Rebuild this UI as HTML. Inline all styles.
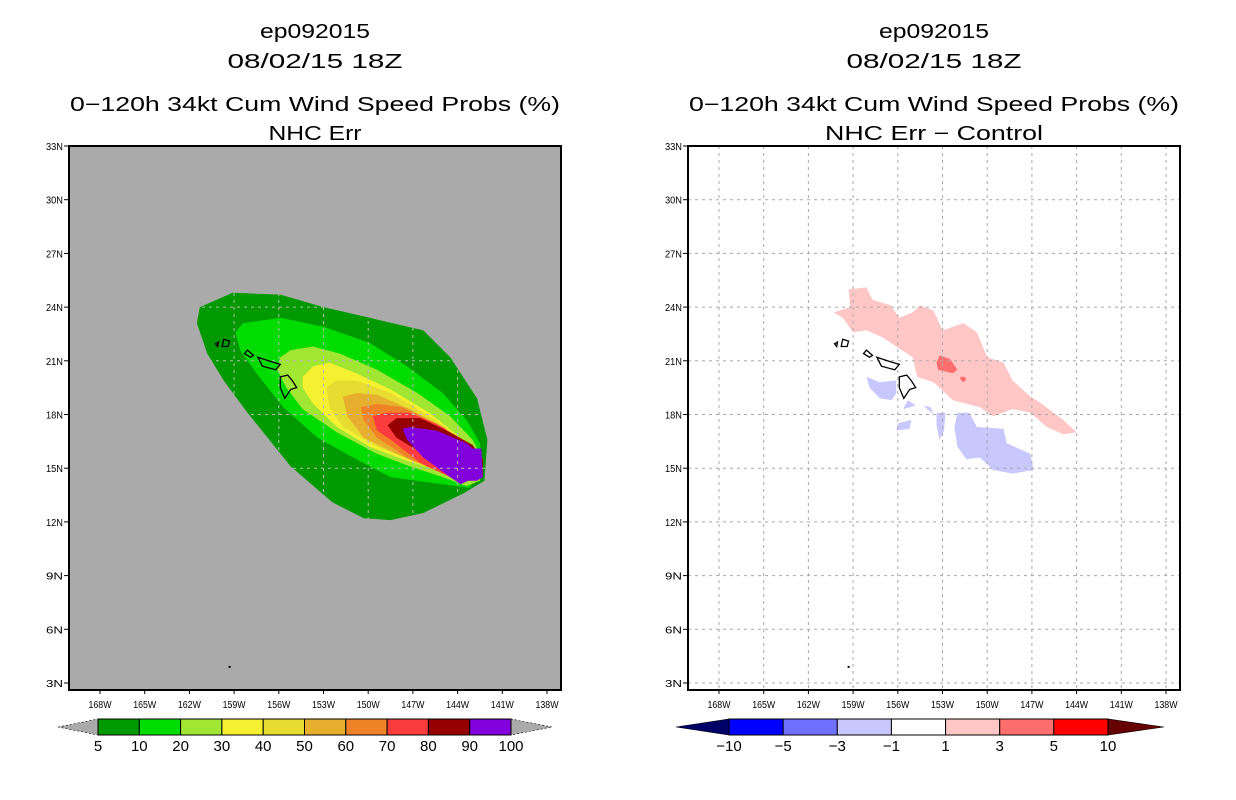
<!DOCTYPE html>
<html><head><meta charset="utf-8"><style>
html,body{margin:0;padding:0;background:#fff;}
svg{display:block;font-family:"Liberation Sans",sans-serif;}
</style></head><body>
<svg id="fig" width="1236" height="800" viewBox="0 0 1236 800" xmlns="http://www.w3.org/2000/svg"></svg>
<script>
// ---- data ----
const lonTicks = [168,165,162,159,156,153,150,147,144,141,138];
const latTicks = [33,30,27,24,21,18,15,12,9,6,3];
const probLevels = [5,10,20,30,40,50,60,70,80,90];
const probColors = ["#009a00","#00dc00","#a0e632","#f5f032","#e6dc32","#e6af2d","#f08228","#fa3c3c","#960000","#8200dc"];
const probLabels = ["5","10","20","30","40","50","60","70","80","90","100"];
const diffColors = ["#0000ff","#7070ff","#c8c8ff","#ffffff","#ffc6c6","#ff6e6e","#ff0000"];
const diffLabels = ["-10","-5","-3","-1","1","3","5","10"];
// contour polygons: [lonW, latN]
const c5 = [[161.5,23.1],[161.3,24.0],[159.1,24.8],[155.9,24.7],[153.0,24.0],[149.9,23.4],[146.3,22.7],[144.5,21.2],[142.7,18.9],[142.0,16.6],[142.2,14.3],[143.6,13.6],[146.3,12.5],[148.5,12.1],[150.3,12.2],[152.4,13.1],[155.2,15.1],[158.1,18.1],[159.7,19.9],[160.8,21.4]];
const c10 = [[158.9,22.6],[158.4,23.1],[155.9,23.4],[153.0,22.9],[149.9,22.0],[147.4,20.7],[145.0,19.2],[143.4,17.7],[142.5,16.4],[142.3,15.1],[143.2,13.9],[145.9,14.2],[148.5,14.5],[150.8,15.5],[153.4,16.7],[155.7,18.4],[157.5,20.3],[158.6,21.6]];
const c20 = [[155.9,21.2],[155.2,21.6],[153.7,21.8],[151.9,21.4],[149.4,20.5],[146.7,19.2],[144.5,17.9],[143.0,16.6],[142.3,15.5],[142.5,14.3],[143.4,14.0],[145.0,14.5],[147.2,15.1],[149.4,15.8],[152.1,17.0],[154.4,18.3],[155.5,19.5],[156.1,20.5]];
const c30 = [[154.4,20.1],[153.7,20.7],[152.6,20.9],[150.8,20.3],[148.5,19.4],[145.9,18.1],[143.8,16.7],[142.7,15.6],[142.5,14.5],[143.6,14.3],[145.4,14.9],[147.7,15.5],[149.9,16.2],[152.1,17.3],[153.7,18.6],[154.4,19.5]];
const c40 = [[152.8,19.5],[152.1,19.9],[150.8,19.9],[148.5,19.2],[145.9,17.9],[143.6,16.6],[142.7,15.5],[143.0,14.5],[144.5,14.7],[146.7,15.3],[149.4,16.2],[151.7,17.3],[152.6,18.4]];
const c50 = [[151.7,19.0],[150.8,19.2],[149.4,19.1],[147.2,18.3],[144.7,17.1],[143.2,16.2],[142.7,15.1],[143.6,14.5],[145.4,14.9],[148.1,15.8],[150.3,16.7],[151.4,17.9]];
const c60 = [[150.5,18.4],[149.4,18.6],[147.7,18.4],[145.4,17.5],[143.4,16.4],[142.7,15.3],[143.4,14.5],[145.0,14.7],[147.2,15.5],[149.4,16.7],[150.3,17.7]];
const c70 = [[149.7,17.9],[148.7,18.1],[147.2,18.1],[145.0,17.3],[143.2,16.2],[142.5,15.3],[143.0,14.3],[144.5,14.5],[146.5,15.3],[148.5,16.6],[149.4,17.1]];
const c80 = [[148.7,17.4],[148.1,17.8],[146.5,17.8],[144.5,17.0],[143.0,16.3],[142.3,15.5],[142.3,14.5],[143.6,14.3],[145.0,14.9],[146.7,16.0],[148.1,16.7]];
const c90 = [[147.7,17.2],[147.2,17.3],[145.4,17.1],[143.4,16.4],[143.0,16.1],[142.4,16.1],[142.3,14.5],[142.7,14.3],[143.3,14.3],[143.8,14.1],[144.5,14.5],[146.3,15.6],[147.4,16.6]];
const probPolys = [c5,c10,c20,c30,c40,c50,c60,c70,c80,c90];
// difference regions
const pinkPoly = [[159.3,25.0],[158.1,25.1],[157.7,24.4],[156.5,24.1],[155.9,23.4],[155.0,23.7],[154.5,24.1],[153.6,23.8],[153.0,22.7],[151.6,23.1],[150.7,22.6],[150.0,21.2],[148.9,20.9],[148.3,19.9],[147.1,19.0],[146.5,18.7],[144.9,17.7],[144.0,17.0],[144.9,16.9],[146.0,17.3],[147.1,18.1],[148.3,18.3],[149.6,17.9],[150.5,18.4],[152.3,18.8],[153.2,19.5],[153.6,19.8],[154.7,20.1],[155.0,21.2],[156.1,21.8],[157.0,22.3],[158.1,22.7],[159.0,22.6],[159.7,23.4],[160.3,23.7],[159.2,24.0]];
const redPoly = [[153.2,21.3],[152.5,21.1],[152.0,20.5],[152.3,20.3],[153.3,20.5],[153.4,20.9]];
const redPoly2 = [[151.8,20.1],[151.5,20.1],[151.4,19.95],[151.6,19.8],[151.8,19.95]];
const bluePolys = [
 [[152.0,18.1],[151.2,18.1],[150.7,17.3],[148.9,17.2],[148.7,16.4],[147.1,15.8],[146.9,14.9],[148.3,14.7],[149.6,14.9],[150.5,15.6],[151.4,15.5],[152.0,16.2],[152.2,17.3]],
 [[158.1,20.1],[157.2,19.8],[156.1,19.9],[156.1,19.2],[156.4,18.8],[157.2,18.9],[157.9,19.5]],
 [[153.4,18.1],[152.8,18.1],[152.9,17.1],[153.2,16.6],[153.4,17.4]],
 [[156.0,17.5],[155.1,17.7],[155.2,17.2],[156.1,17.1]],
 [[155.6,18.4],[155.3,18.8],[154.8,18.5],[155.6,18.3]],
 [[154.3,18.5],[153.8,18.4],[153.6,18.0]]
];
// islands
const islands = [
 [[155.9,20.1],[155.4,20.2],[155.1,19.9],[154.8,19.5],[155.2,19.4],[155.6,18.9],[155.9,19.5]],
 [[157.4,21.2],[156.7,21.0],[155.9,20.8],[156.2,20.5],[157.1,20.7]],
 [[158.1,21.6],[157.7,21.3],[157.9,21.2],[158.3,21.4]],
 [[159.7,22.2],[159.3,22.1],[159.4,21.8],[159.8,21.8]],
 [[160.25,21.95],[160.05,22.05],[160.1,21.8]]
];
const dotPos = [159.3,3.9];

// ---- drawing ----
const NS="http://www.w3.org/2000/svg";
const svg=document.getElementById('fig');
function el(tag,attrs,parent){const e=document.createElementNS(NS,tag);for(const k in attrs)e.setAttribute(k,attrs[k]);(parent||svg).appendChild(e);return e;}
const FX0=69, FY0=146, FW=492, FH=544;
function xs(off){return w=>off+100+(168-w)*14.9;}
function ys(n){return 146+(33-n)*17.9;}
function pts(poly,X){return poly.map(p=>X(p[0]).toFixed(1)+','+ys(p[1]).toFixed(1)).join(' ');}

function panel(off,bg,titleLines,name){
  const g=el('g',{});
  
  
  const X=xs(off);
  const cx=off+315;
  const tl=[[38,titleLines[0],110],[68,titleLines[1],175],[111,titleLines[2],490],[140,titleLines[3],titleLines[4]]];
  tl.forEach((t,i)=>{
    const tx=el('text',{x:cx,y:t[0],'text-anchor':'middle','font-size':20,textLength:t[2],lengthAdjust:'spacingAndGlyphs',fill:'#000'},g);
    tx.textContent=t[1];
    
    
  });
  const bgr=el('rect',{x:off+FX0,y:FY0,width:FW,height:FH,fill:bg},g);
  
  
  return {g,X};
}

function grid(g,X,col,clip){
  const gg=el('g',clip?{'clip-path':'url(#'+clip+')'}:{},g);
  lonTicks.forEach(w=>{const l=el('line',{x1:X(w),x2:X(w),y1:FY0,y2:FY0+FH,stroke:col,'stroke-width':1,'stroke-dasharray':'3,4'},gg);
    });
  latTicks.forEach(n=>{const l=el('line',{x1:X(168)-31,x2:X(138)+14,y1:ys(n),y2:ys(n),stroke:col,'stroke-width':1,'stroke-dasharray':'3,4'},gg);
    });
}

function axes(g,X,off){
  const fr=el('rect',{x:off+FX0,y:FY0,width:FW,height:FH,fill:'none',stroke:'#000','stroke-width':2},g);
  
  latTicks.forEach(n=>{
    el('line',{x1:off+FX0-5,x2:off+FX0,y1:ys(n),y2:ys(n),stroke:'#000'},g);
    const t=el('text',{x:off+FX0-6,y:ys(n)+4,'text-anchor':'end','font-size':10,textLength:17,lengthAdjust:'spacingAndGlyphs'},g);
    t.textContent=n+'N';
  });
  lonTicks.forEach(w=>{
    el('line',{x1:X(w),x2:X(w),y1:FY0+FH,y2:FY0+FH+4,stroke:'#000'},g);
    const t=el('text',{x:X(w),y:FY0+FH+18,'text-anchor':'middle','font-size':10,textLength:23,lengthAdjust:'spacingAndGlyphs'},g);
    t.textContent=w+'W';
  });
}

function land(g,X){
  islands.forEach(p=>{const e=el('polygon',{points:pts(p,X),fill:'none',stroke:'#000','stroke-width':1.3},g);
    });
  const d=el('rect',{x:X(dotPos[0])-1,y:ys(dotPos[1])-1,width:2,height:2,fill:'#000'},g);
  
}

// left panel
const L=panel(0,'#aaaaaa',['ep092015','08/02/15 18Z','0\u2212120h 34kt Cum Wind Speed Probs (%)','NHC Err',93],'left-panel');
probPolys.forEach((p,i)=>{const e=el('polygon',{points:pts(p,L.X),fill:probColors[i]},L.g);
  });
const defs=el('defs',{});
const cp=el('clipPath',{id:'shadeClip'},defs);
el('polygon',{points:pts(c5,L.X)},cp);
grid(L.g,L.X,'#b8b8b8','shadeClip');
land(L.g,L.X);
axes(L.g,L.X,0);

// right panel
const R=panel(619,'#ffffff',['ep092015','08/02/15 18Z','0\u2212120h 34kt Cum Wind Speed Probs (%)','NHC Err \u2212 Control',218],'right-panel');
{const e=el('polygon',{points:pts(pinkPoly,R.X),fill:diffColors[4]},R.g);}
[redPoly,redPoly2].forEach(p=>{const e=el('polygon',{points:pts(p,R.X),fill:diffColors[5]},R.g);});
bluePolys.forEach(p=>{const e=el('polygon',{points:pts(p,R.X),fill:diffColors[2]},R.g);});
grid(R.g,R.X,'#a8a8a8',null);
land(R.g,R.X);
axes(R.g,R.X,619);

// colorbars
function colorbar(x0,x1,tipL,tipR,cols,labels,leftCol,rightCol,name,tipHalf){
  const g=el('g',{});
  const y0=719,y1=735,ym=727,n=cols.length,bw=(x1-x0)/n;
  const a=el('polygon',{points:`${tipL},${ym} ${x0},${y0} ${x0},${y1}`,fill:leftCol,stroke:'#000','stroke-width':0.6,'stroke-dasharray':tipHalf?'2,2':'none'},g);
  
  const b=el('polygon',{points:`${tipR},${ym} ${x1},${y0} ${x1},${y1}`,fill:rightCol,stroke:'#000','stroke-width':0.6,'stroke-dasharray':tipHalf?'2,2':'none'},g);
  
  cols.forEach((c,i)=>{const r=el('rect',{x:x0+i*bw,y:y0,width:bw,height:y1-y0,fill:c,stroke:'#000','stroke-width':1},g);
    });
  labels.forEach((t,i)=>{const lx=x0+i*bw;const tx=el('text',{x:lx,y:751,'text-anchor':'middle','font-size':15},g);
    tx.textContent=t.replace('-','\u2212');});
}
colorbar(98,511,58,552,probColors,probLabels,'#aaaaaa','#aaaaaa','prob-colorbar',true);
colorbar(729,1108,676,1164,diffColors,diffLabels,'#000066','#660000','diff-colorbar',false);
</script>
</body></html>
